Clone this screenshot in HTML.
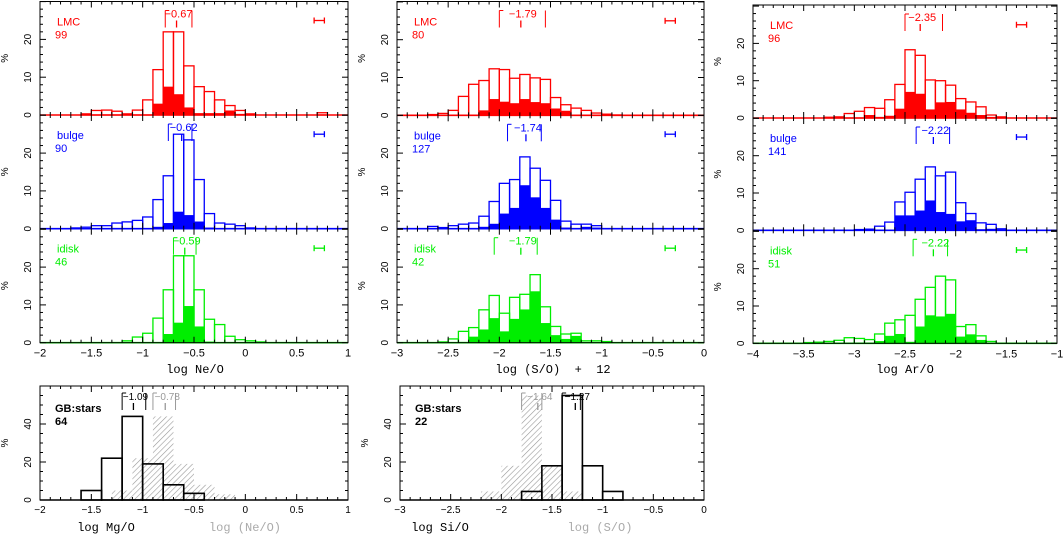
<!DOCTYPE html>
<html><head><meta charset="utf-8"><style>
body{margin:0;background:#fff;}
svg{display:block;font-family:"Liberation Sans",sans-serif;}
text{white-space:pre;}
</style></head><body>
<svg id="c" width="1064" height="535" viewBox="0 0 1064 535">
<defs><pattern id="hatch" patternUnits="userSpaceOnUse" width="4" height="4" patternTransform="rotate(45)"><line x1="0" y1="0" x2="0" y2="4" stroke="#999" stroke-width="1.2"/></pattern></defs>
</svg>
<script>
// ---- data (bin start, bin width 0.1 unless noted) ----
const neLmcStart=-1.6;
const neLmcOpen=[0.3,1.2,1.3,1.0,0.3,1.3,4,12,22,22,13,7.5,6.2,4,2.5,1.2,0.3,0,0,0,0,0,0,0.6];
const neLmcFill=[0,0,0,0,0,0,0,3,7.5,5.5,2,0.5,0.5,0.5,1.2,0.3];
const neBulgeStart=-1.7;
const neBulgeOpen=[0.2,0.4,0.8,0.8,1.5,1.8,2.2,3.1,7.7,14,25,23.5,13,4,1.5,1.2,0.8,0.2];
const neBulgeFill=[0,0,0,0,0,0,0,0,0.5,1.5,4.5,3.6,1.9,0.3];
const neIdiskStart=-1.2;
const neIdiskOpen=[0.5,1.5,2.5,6.5,14,23,23,14,6.2,4.8,1.7,0.8,0.5,0.2];
const neIdiskFill=[0,0,0,0,2.3,5.3,9.7,4.3,0.3];
const sLmcStart=-2.7;
const sLmcOpen=[0.2,0.5,1.3,5,8.2,9.2,12.3,12.1,9.8,10.8,9.9,9.5,4.7,2.8,1.9,1.3,0.6,0.3,0.1];
const sLmcFill=[0,0,0,0,0,1.3,4.3,3.6,3.2,4.3,3.5,3.2,1.8,1.2];
const sBulgeStart=-2.7;
const sBulgeOpen=[0.6,0.3,0.8,1.2,1.5,3.3,7.2,12,13,19,16,12.8,7.5,2,1.2,1.2,0.8];
const sBulgeFill=[0,0,0,0,0,0.5,1.3,4,5.5,11.5,8.3,5.5,2.4,0.3,0,0.5,0.3];
const sIdiskStart=-2.6;
const sIdiskOpen=[0.2,1,3,4,8.7,12.5,7.8,12,12.8,18,9.5,4.3,2.3,2.5,0.5,0.5,0.3];
const sIdiskFill=[0,0,0.2,1.6,3.5,6.5,3,6.3,8.8,13.6,5.2,2,1,1.8];
const arLmcStart=-3.3;
const arLmcOpen=[0.2,0.3,1.2,1.8,2.8,2.6,4.9,9,18.3,16.8,10.2,10,8.8,5.2,4.3,3,0.8,0.3];
const arLmcFill=[0,0,0,0,0.8,0.3,0.6,2.5,7,6.5,2.3,4.2,4.3,2.3,1.4,0.8,0.3];
const arBulgeStart=-3.0;
const arBulgeOpen=[0.2,0.3,1.1,2.2,7.6,10.2,13.7,17,14.6,15.6,7.4,4.5,2,1.6,0.4];
const arBulgeFill=[0,0,0,0.2,4,4,5.3,8,4.9,4.4,2.4,2.7,0.3,0.4];
const arIdiskStart=-3.5;
const arIdiskOpen=[0.2,0.3,0.5,0.8,1.5,1.3,1,2.5,5.4,6.3,7.5,11.8,15,18,17,4.5,5,2,0.5];
const arIdiskFill=[0,0,0,0,0,0,0,0.6,2,2.5,0.4,4.5,7.5,7.2,7.9,1.8,2.4,0.9];
// bottom panels (bin width 0.2)
const mgStart=-1.6;
const mgVals=[5,22,44,19,8,3.5];
const neGStart=-1.3;
const neGVals=[5,22,44,19,8,3];
const siStart=-1.8;
const siVals=[4.5,18,55,18,4.5];
const sGStart=-2.2;
const sGVals=[4.5,18,55,18,4.5];
// medians [median, lo, hi]
const medNe=[[-0.67,-0.78,-0.52],[-0.62,-0.75,-0.52],[-0.59,-0.70,-0.48]];
const medS=[[-1.79,-2.0,-1.55],[-1.74,-1.92,-1.59],[-1.79,-2.05,-1.63]];
const medAr=[[-2.35,-2.5,-2.13],[-2.22,-2.39,-2.06],[-2.22,-2.42,-2.08]];
const medMg=[-1.09,-1.2,-0.97], medNeG=[-0.78,-0.9,-0.68];
const medSi=[-1.27,-1.4,-1.22], medSG=[-1.64,-1.8,-1.6];
const samples=[["LMC","bulge","idisk"],[[99,90,46],[80,127,42],[96,141,51]]];
const xTicksNe=[-2,-1.5,-1,-0.5,0,0.5,1], xTicksS=[-3,-2.5,-2,-1.5,-1,-0.5,0], xTicksAr=[-4,-3.5,-3,-2.5,-2,-1.5,-1];

const svg=document.getElementById('c');
const NS='http://www.w3.org/2000/svg';
function mk(tag,attrs,parent){const e=document.createElementNS(NS,tag);for(const k in attrs)e.setAttribute(k,attrs[k]);(parent||svg).appendChild(e);return e;}
function fmt(v){return (v<0?'\u2212':'')+String(Math.abs(v));}
const cols=[
 {x0:40,x1:348,min:-2,max:1,ticks:xTicksNe,top:1.5,base:[115,228.7,342.7],ppp:3.78,label:"log Ne/O",lx:195,err:[0.67,0.77]},
 {x0:397,x1:704,min:-3,max:0,ticks:xTicksS,top:1.5,base:[115.3,228.7,342.7],ppp:3.78,label:"log (S/O)  +  12",lx:553,err:[-0.38,-0.28]},
 {x0:753,x1:1057,min:-4,max:-1,ticks:xTicksAr,top:5,base:[118,230.3,343.3],ppp:3.73,label:"log Ar/O",lx:905,err:[-1.4,-1.3]}
];
const colors=['#ff0000','#0000ff','#00ee00'];
const data=[
 [[neLmcStart,neLmcOpen,neLmcFill],[neBulgeStart,neBulgeOpen,neBulgeFill],[neIdiskStart,neIdiskOpen,neIdiskFill]],
 [[sLmcStart,sLmcOpen,sLmcFill],[sBulgeStart,sBulgeOpen,sBulgeFill],[sIdiskStart,sIdiskOpen,sIdiskFill]],
 [[arLmcStart,arLmcOpen,arLmcFill],[arBulgeStart,arBulgeOpen,arBulgeFill],[arIdiskStart,arIdiskOpen,arIdiskFill]]
];
const meds=[medNe,medS,medAr];
function xs(c,v){return c.x0+(v-c.min)/(c.max-c.min)*(c.x1-c.x0);}
function xTicks(c,top,bot,g){
 for(let v=c.min;v<=c.max+1e-9;v+=0.1){const x=xs(c,v);const maj=Math.abs(v*2-Math.round(v*2))<1e-6;const L=maj?6:3;
  mk('line',{x1:x,y1:bot,x2:x,y2:bot-L,stroke:'#000','stroke-width':1},g);mk('line',{x1:x,y1:top,x2:x,y2:top+L,stroke:'#000','stroke-width':1},g);}
}
function yTicks(c,base,ppp,top,step,minor,g){
 for(let p=0;base-p*ppp>=top-0.5;p+=minor){const y=base-p*ppp;const maj=p%step===0;const L=maj?6:3;
  mk('line',{x1:c.x0,y1:y,x2:c.x0+L,y2:y,stroke:'#000','stroke-width':1},g);mk('line',{x1:c.x1,y1:y,x2:c.x1-L,y2:y,stroke:'#000','stroke-width':1},g);
  if(maj && y-top>8){const t=mk('text',{x:c.x0-9,y:y,'font-size':10,'text-anchor':'middle',transform:`rotate(-90 ${c.x0-9} ${y})`},g);t.textContent=p;}}
}
function median(c,m,top,col,g,size){
 const y1=top+9,y2=top+26;
 [m[1],m[2]].forEach(v=>{const x=xs(c,v);mk('line',{x1:x,y1:y1,x2:x,y2:y2,stroke:col,'stroke-width':1},g);});
 mk('line',{x1:xs(c,m[1]),y1:y1,x2:xs(c,m[1])+4,y2:y1,stroke:col,'stroke-width':1},g);
 const xm=xs(c,m[0]);mk('line',{x1:xm,y1:top+19,x2:xm,y2:y2,stroke:col,'stroke-width':1.3},g);
 const t=mk('text',{x:xm+2,y:top+16,'font-size':size||11,fill:col,'text-anchor':'middle'},g);t.textContent=fmt(m[0]);
}
cols.forEach((c,ci)=>{
 const cg=mk('g',{});
 
 
 c.base.forEach((base,ri)=>{
  const top=ri===0?c.top:c.base[ri-1];
  const col=colors[ri];
  const g=mk('g',{},cg);
  
  
  const [st,open,fill]=data[ci][ri];
  fill.forEach((v,i)=>{if(v<=0)return;const a=xs(c,st+i*0.1),b=xs(c,st+(i+1)*0.1);
   const r=mk('rect',{x:a,y:base-v*c.ppp,width:b-a,height:v*c.ppp,fill:col},g);
   });
  open.forEach((v,i)=>{if(v<=0)return;const a=xs(c,st+i*0.1),b=xs(c,st+(i+1)*0.1);
   const r=mk('rect',{x:a,y:base-v*c.ppp,width:b-a,height:v*c.ppp,fill:'none',stroke:col,'stroke-width':1.3},g);
   });
  mk('line',{x1:c.x0,y1:base,x2:c.x1,y2:base,stroke:col,'stroke-width':1.6},g);
  xTicks(c,top,base,g);
  yTicks(c,base,c.ppp,top,10,2,g);
  const px=ci===0?8:c.x0-32;
  const pt=mk('text',{x:px,y:top+(base-top)/2,'font-size':10,'text-anchor':'middle',transform:`rotate(-90 ${px} ${top+(base-top)/2})`},g);
  
  pt.textContent='%';
  const l1=mk('text',{x:c.x0+17,y:top+24,'font-size':11,fill:col},g);l1.textContent=samples[0][ri];
  
  const l2=mk('text',{x:c.x0+15,y:top+37,'font-size':11,fill:col},g);l2.textContent=samples[1][ci][ri];
  
  median(c,meds[ci][ri],top,col,g);
  const ey=base-25*c.ppp;
  mk('line',{x1:xs(c,c.err[0]),y1:ey,x2:xs(c,c.err[1]),y2:ey,stroke:col,'stroke-width':1.3},g);
  [c.err[0],c.err[1]].forEach(v=>mk('line',{x1:xs(c,v),y1:ey-3,x2:xs(c,v),y2:ey+3,stroke:col,'stroke-width':1.3},g));
 });
 mk('rect',{x:c.x0,y:c.top,width:c.x1-c.x0,height:c.base[2]-c.top,fill:'none',stroke:'#000','stroke-width':1},cg);
 c.ticks.forEach(v=>{const t=mk('text',{x:xs(c,v),y:c.base[2]+14,'font-size':11,'text-anchor':'middle'},cg);t.textContent=fmt(v);});
 const xl=mk('text',{x:c.lx,y:373,'font-size':12,'text-anchor':'middle','font-family':'Liberation Mono, monospace'},cg);xl.textContent=c.label;
 
});
// bottom panels
const bcols=[
 {x0:40,x1:348,min:-2,max:1,ticks:xTicksNe,base:500,ppp:1.9,top:386,black:[mgStart,mgVals],gray:[neGStart,neGVals],mb:medMg,mg:medNeG,n:64,l1:"log Mg/O",l1x:106,l2:"log (Ne/O)",l2x:245},
 {x0:400,x1:704,min:-3,max:0,ticks:xTicksS,base:500,ppp:1.9,top:386,black:[siStart,siVals],gray:[sGStart,sGVals],mb:medSi,mg:medSG,n:22,l1:"log Si/O",l1x:440,l2:"log (S/O)",l2x:600}
];
bcols.forEach((c,ci)=>{
 const g=mk('g',{});
 
 
 c.gray[1].forEach((v,i)=>{const a=xs(c,c.gray[0]+i*0.2),b=xs(c,c.gray[0]+(i+1)*0.2);
  const r=mk('rect',{x:a,y:c.base-v*c.ppp,width:b-a,height:v*c.ppp,fill:'url(#hatch)'},g);
  });
 c.black[1].forEach((v,i)=>{const a=xs(c,c.black[0]+i*0.2),b=xs(c,c.black[0]+(i+1)*0.2);
  const r=mk('rect',{x:a,y:c.base-v*c.ppp,width:b-a,height:v*c.ppp,fill:'none',stroke:'#000','stroke-width':1.6},g);
  });
 mk('line',{x1:c.x0,y1:c.base,x2:c.x1,y2:c.base,stroke:'#000','stroke-width':1.4},g);
 mk('rect',{x:c.x0,y:c.top,width:c.x1-c.x0,height:c.base-c.top,fill:'none',stroke:'#000','stroke-width':1},g);
 xTicks(c,c.top,c.base,g);
 yTicks(c,c.base,c.ppp,c.top,20,5,g);
 median(c,c.mb,c.top-2,'#000',g,10);
 median(c,c.mg,c.top-2,'#999',g,10);
 const pt=mk('text',{x:c.x0-32,y:443,'font-size':10,'text-anchor':'middle',transform:`rotate(-90 ${c.x0-32} 443)`},g);pt.textContent='%';
 
 const a=mk('text',{x:c.x0+15,y:412,'font-size':11,'font-weight':'bold'},g);a.textContent='GB:stars';
 const b=mk('text',{x:c.x0+15,y:425,'font-size':11,'font-weight':'bold'},g);b.textContent=c.n;
 c.ticks.forEach(v=>{const t=mk('text',{x:xs(c,v),y:513,'font-size':10,'text-anchor':'middle'},g);t.textContent=fmt(v);});
 const x1=mk('text',{x:c.l1x,y:531,'font-size':12,'text-anchor':'middle','font-family':'Liberation Mono, monospace'},g);x1.textContent=c.l1;
 
 const x2=mk('text',{x:c.l2x,y:531,'font-size':12,'text-anchor':'middle',fill:'#aaa','font-family':'Liberation Mono, monospace'},g);x2.textContent=c.l2;
 
});
</script>
</body></html>
